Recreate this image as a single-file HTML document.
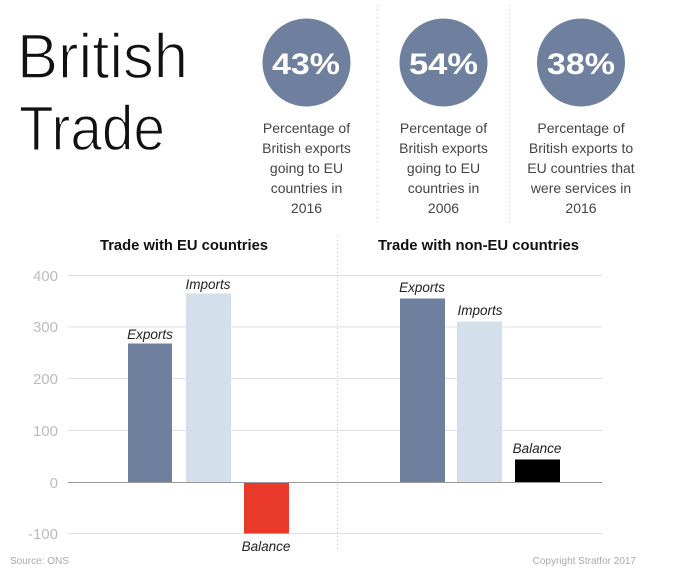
<!DOCTYPE html>
<html><head><meta charset="utf-8"><style>
html,body{margin:0;padding:0;background:#fff;}
svg{display:block;}
</style></head><body>
<svg width="695" height="582" viewBox="0 0 695 582" xmlns="http://www.w3.org/2000/svg" font-family="Liberation Sans, sans-serif">
<rect width="695" height="582" fill="#fff"/>
<!-- Title -->
<text x="17" y="78" font-size="63" fill="#111" stroke="#fff" stroke-width="1.4" textLength="171" lengthAdjust="spacingAndGlyphs">British</text>
<text x="19" y="150" font-size="63" fill="#111" stroke="#fff" stroke-width="1.4" textLength="146" lengthAdjust="spacingAndGlyphs">Trade</text>
<!-- top separators -->
<line x1="377.5" y1="5" x2="377.5" y2="222" stroke="#ccc" stroke-width="1" stroke-dasharray="1,3"/>
<line x1="509.5" y1="5" x2="509.5" y2="222" stroke="#ccc" stroke-width="1" stroke-dasharray="1,3"/>
<!-- circles -->
<circle cx="306.5" cy="62.5" r="44" fill="#6f809f"/>
<circle cx="443.5" cy="62.5" r="44" fill="#6f809f"/>
<circle cx="581" cy="62.5" r="44" fill="#6f809f"/>
<g font-size="30" font-weight="bold" fill="#fff">
<text x="272" y="74" textLength="68" lengthAdjust="spacingAndGlyphs">43%</text>
<text x="409" y="74" textLength="69" lengthAdjust="spacingAndGlyphs">54%</text>
<text x="547" y="74" textLength="68" lengthAdjust="spacingAndGlyphs">38%</text>
</g>
<g font-size="14" fill="#444" text-anchor="middle">
<text x="306.5" y="133">Percentage of</text>
<text x="306.5" y="153">British exports</text>
<text x="306.5" y="173">going to EU</text>
<text x="306.5" y="193">countries in</text>
<text x="306.5" y="213">2016</text>
<text x="443.5" y="133">Percentage of</text>
<text x="443.5" y="153">British exports</text>
<text x="443.5" y="173">going to EU</text>
<text x="443.5" y="193">countries in</text>
<text x="443.5" y="213">2006</text>
<text x="581" y="133">Percentage of</text>
<text x="581" y="153">British exports to</text>
<text x="581" y="173">EU countries that</text>
<text x="581" y="193">were services in</text>
<text x="581" y="213">2016</text>
</g>
<!-- chart titles -->
<text x="100" y="250" font-size="14.5" font-weight="bold" fill="#111" textLength="168" lengthAdjust="spacingAndGlyphs">Trade with EU countries</text>
<text x="378" y="250" font-size="14.5" font-weight="bold" fill="#111" textLength="201" lengthAdjust="spacingAndGlyphs">Trade with non-EU countries</text>
<!-- middle separator -->
<line x1="337.5" y1="236" x2="337.5" y2="552" stroke="#ccc" stroke-width="1" stroke-dasharray="1,3"/>
<!-- gridlines -->
<g stroke="#e0e0e0" stroke-width="1">
<line x1="68" y1="275.5" x2="602" y2="275.5"/>
<line x1="68" y1="327" x2="602" y2="327"/>
<line x1="68" y1="378.5" x2="602" y2="378.5"/>
<line x1="68" y1="430.5" x2="602" y2="430.5"/>
<line x1="68" y1="533.5" x2="602" y2="533.5"/>
</g>
<!-- y labels -->
<g font-size="15" fill="#bbb" text-anchor="end">
<text x="58" y="281">400</text>
<text x="58" y="332">300</text>
<text x="58" y="384">200</text>
<text x="58" y="436">100</text>
<text x="58" y="488">0</text>
<text x="58" y="539">-100</text>
</g>
<!-- bars EU -->
<rect x="128" y="343.5" width="44" height="139" fill="#6f809f"/>
<rect x="186" y="293.5" width="45" height="189" fill="#d3e0ec"/>
<rect x="244" y="482.5" width="45" height="51" fill="#e8392a"/>
<!-- bars non-EU -->
<rect x="400" y="298.5" width="45" height="184" fill="#6f809f"/>
<rect x="457" y="321.5" width="45" height="161" fill="#d3e0ec"/>
<rect x="515" y="459.5" width="45" height="23" fill="#000"/>
<!-- zero line -->
<line x1="68" y1="482.5" x2="602" y2="482.5" stroke="#999" stroke-width="1"/>
<!-- bar labels -->
<g font-size="13.5" font-style="italic" fill="#222" text-anchor="middle">
<text x="150" y="339">Exports</text>
<text x="208" y="289">Imports</text>
<text x="266" y="551">Balance</text>
<text x="422" y="292">Exports</text>
<text x="480" y="315">Imports</text>
<text x="537" y="453">Balance</text>
</g>
<!-- footer -->
<text x="10" y="564" font-size="10" fill="#aaa">Source: ONS</text>
<text x="636" y="564" font-size="10" fill="#aaa" text-anchor="end">Copyright Stratfor 2017</text>
</svg>
</body></html>
